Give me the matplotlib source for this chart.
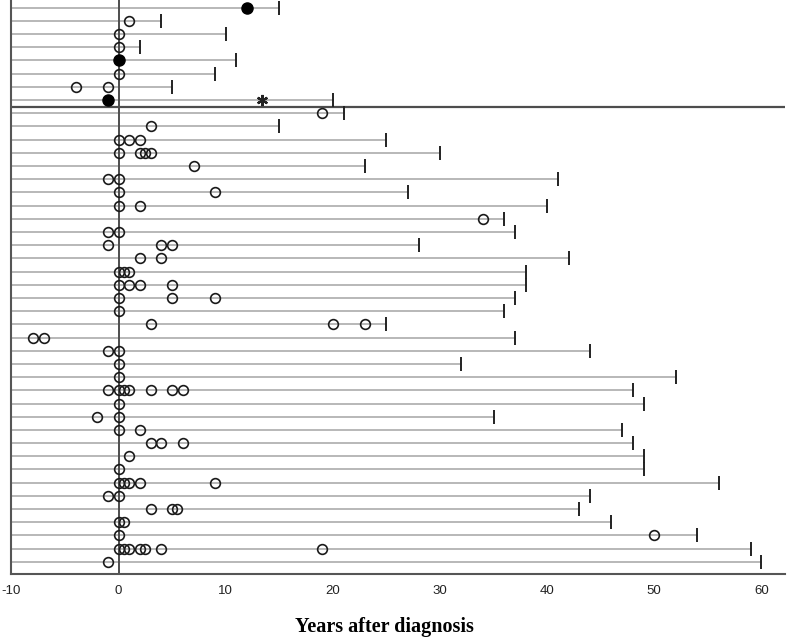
""" Swimmer-style timeline of events per patient, years after diagnosis
"""

import matplotlib
matplotlib.use('Agg')
import matplotlib.pyplot as plt

# end of follow-up per patient (top to bottom)
ends = [15, 4, 10, 2, 11, 9, 5, 20,
        21, 15, 25, 30, 23, 41, 27, 40, 36, 37, 28, 42, 38, 38, 37, 36,
        25, 37, 44, 32, 52, 48, 49, 35, 47, 48, 49, 49, 56, 44, 43, 46,
        54, 59, 60]

# open circles per patient
open_events = [[], [1], [0], [0], [], [0], [-4, -1], [],
               [19], [3], [0, 1, 2], [0, 2, 2.5, 3], [7], [-1, 0], [0, 9],
               [0, 2], [34], [-1, 0], [-1, 4, 5], [2, 4], [0, 0.5, 1],
               [0, 1, 2, 5], [0, 5, 9], [0], [3, 20, 23], [-8, -7], [-1, 0],
               [0], [0], [-1, 0, 0.5, 1, 3, 5, 6], [0], [-2, 0], [0, 2],
               [3, 4, 6], [1], [0], [0, 0.5, 1, 2, 9], [-1, 0], [3, 5, 5.5],
               [0, 0.5], [0, 50], [0, 0.5, 1, 2, 2.5, 4, 19], [-1]]

# filled circles: (patient row, year)
filled_rows = [0, 4, 7]
filled_years = [12, 0, -1]

# asterisk marker
star_row = 7
star_year = 13.4

n_top = 8  # patients above the separator line

fig = plt.figure(figsize=(7.87, 6.4), dpi=100)
ax = fig.add_axes([11.4 / 787, 1 - 574.3 / 640, (785 - 11.4) / 787, 574.3 / 640])

x_min = -10
for i, end in enumerate(ends):
    ax.plot([x_min, end], [i, i], color='#b8b8b8', lw=1.4, zorder=1)
    ax.plot(end, i, marker='|', ms=10, mew=1.4, color='#222222', zorder=3)
    if open_events[i]:
        ax.plot(open_events[i], [i] * len(open_events[i]), 'o', ls='none',
                ms=7, mfc='none', mec='#1a1a1a', mew=1.2, zorder=4)

ax.plot(filled_years, filled_rows, 'o', ls='none', ms=8, color='black', zorder=4)
ax.plot(star_year, star_row, marker=(6, 2, 0), ms=8, mew=1.6, color='#222222',
        ls='none', zorder=4)

ax.axvline(0, color='#4d4d4d', lw=1.4, zorder=2)
ax.axhline(n_top - 0.5, color='#4d4d4d', lw=1.6, zorder=2)

ax.set_xlim(-10, 62.2)
ax.set_ylim(42.94, -0.57)

for side in ['top', 'right']:
    ax.spines[side].set_visible(False)
for side in ['left', 'bottom']:
    ax.spines[side].set_color('#555555')
    ax.spines[side].set_linewidth(1.5)

ax.set_yticks([])
ax.set_xticks(range(-10, 61, 10))
ax.set_xticklabels([str(v) for v in range(-10, 61, 10)],
                   family=['Liberation Sans Narrow', 'Liberation Sans'],
                   fontsize=9.5, color='#222222')
ax.tick_params(axis='x', length=0, pad=8)

fig.text(384.7 / 787, 1 - 626.7 / 640, 'Years after diagnosis',
         ha='center', va='center', family='Liberation Serif',
         fontweight='bold', fontsize=14.5)

fig.savefig('out.png', dpi=100)
